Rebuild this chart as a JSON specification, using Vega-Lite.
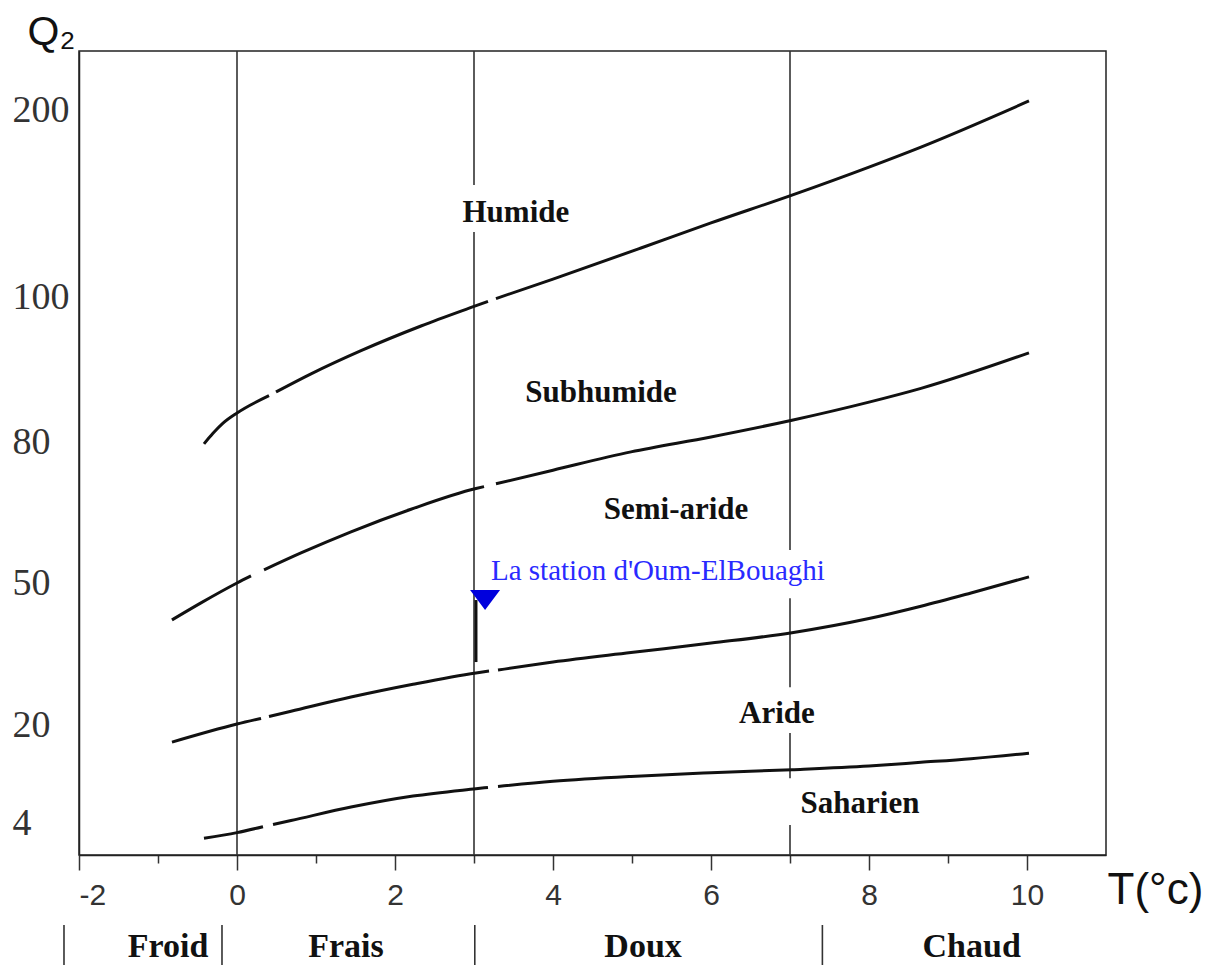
{
  "$schema": "https://vega.github.io/schema/vega-lite/v6.json",
  "autosize": "none",
  "padding": {"left": 79, "top": 51, "right": 112, "bottom": 914},
  "background": "white",
  "bounds": "flush",
  "spacing": 70,
  "config": {"view": {"stroke": null}},
  "datasets": {
    "curves": [
      {"seg": "A1", "T": -0.418, "Q2": 79.6}, {"seg": "A1", "T": -0.304, "Q2": 81.2}, {"seg": "A1", "T": -0.177, "Q2": 82.6},
      {"seg": "A1", "T": 0, "Q2": 84.0}, {"seg": "A1", "T": 0.405, "Q2": 86.4},
      {"seg": "A2", "T": 0.494, "Q2": 86.9}, {"seg": "A2", "T": 0.937, "Q2": 89.4}, {"seg": "A2", "T": 1.57, "Q2": 92.6},
      {"seg": "A2", "T": 2.329, "Q2": 96.0}, {"seg": "A2", "T": 3.0, "Q2": 98.7}, {"seg": "A2", "T": 3.177, "Q2": 99.4},
      {"seg": "A3", "T": 3.278, "Q2": 99.78}, {"seg": "A3", "T": 4.0, "Q2": 109.6}, {"seg": "A3", "T": 5.114, "Q2": 126.2},
      {"seg": "A3", "T": 6.0, "Q2": 139.6}, {"seg": "A3", "T": 7.025, "Q2": 154.5}, {"seg": "A3", "T": 8.0, "Q2": 169.5},
      {"seg": "A3", "T": 8.658, "Q2": 180.2}, {"seg": "A3", "T": 10.025, "Q2": 204.6},
      {"seg": "B1", "T": -0.823, "Q2": 42.2}, {"seg": "B1", "T": -0.456, "Q2": 45.8}, {"seg": "B1", "T": 0, "Q2": 50.0},
      {"seg": "B1", "T": 0.177, "Q2": 51.5},
      {"seg": "B2", "T": 0.342, "Q2": 52.8}, {"seg": "B2", "T": 0.81, "Q2": 56.4}, {"seg": "B2", "T": 1.443, "Q2": 60.9},
      {"seg": "B2", "T": 2.203, "Q2": 65.7}, {"seg": "B2", "T": 3.025, "Q2": 70.1}, {"seg": "B2", "T": 3.127, "Q2": 70.5},
      {"seg": "B3", "T": 3.278, "Q2": 71.1}, {"seg": "B3", "T": 4.0, "Q2": 74.0}, {"seg": "B3", "T": 4.987, "Q2": 77.9},
      {"seg": "B3", "T": 6.0, "Q2": 80.7}, {"seg": "B3", "T": 7.025, "Q2": 83.0}, {"seg": "B3", "T": 8.0, "Q2": 85.5},
      {"seg": "B3", "T": 8.658, "Q2": 87.4}, {"seg": "B3", "T": 10.025, "Q2": 92.3},
      {"seg": "C1", "T": -0.823, "Q2": 17.2}, {"seg": "C1", "T": 0, "Q2": 20.2}, {"seg": "C1", "T": 0.304, "Q2": 21.4},
      {"seg": "C2", "T": 0.405, "Q2": 21.8}, {"seg": "C2", "T": 0.684, "Q2": 22.9}, {"seg": "C2", "T": 1.443, "Q2": 25.9},
      {"seg": "C2", "T": 2.228, "Q2": 28.6}, {"seg": "C2", "T": 3.025, "Q2": 31.0}, {"seg": "C2", "T": 3.19, "Q2": 31.4},
      {"seg": "C3", "T": 3.304, "Q2": 31.6}, {"seg": "C3", "T": 4.0, "Q2": 33.3}, {"seg": "C3", "T": 4.987, "Q2": 35.3},
      {"seg": "C3", "T": 6.0, "Q2": 37.3}, {"seg": "C3", "T": 7.025, "Q2": 39.5}, {"seg": "C3", "T": 8.0, "Q2": 42.5},
      {"seg": "C3", "T": 8.658, "Q2": 45.1}, {"seg": "C3", "T": 9.291, "Q2": 47.9}, {"seg": "C3", "T": 10.025, "Q2": 51.3},
      {"seg": "D1", "T": -0.418, "Q2": 2.1}, {"seg": "D1", "T": 0, "Q2": 2.8}, {"seg": "D1", "T": 0.329, "Q2": 3.54},
      {"seg": "D2", "T": 0.456, "Q2": 3.81}, {"seg": "D2", "T": 0.684, "Q2": 4.4}, {"seg": "D2", "T": 1.443, "Q2": 6.6},
      {"seg": "D2", "T": 2.228, "Q2": 8.4}, {"seg": "D2", "T": 3.025, "Q2": 9.6}, {"seg": "D2", "T": 3.177, "Q2": 9.81},
      {"seg": "D3", "T": 3.304, "Q2": 9.97}, {"seg": "D3", "T": 4.0, "Q2": 10.8}, {"seg": "D3", "T": 4.987, "Q2": 11.6},
      {"seg": "D3", "T": 6.0, "Q2": 12.2}, {"seg": "D3", "T": 7.025, "Q2": 12.7}, {"seg": "D3", "T": 8.0, "Q2": 13.3},
      {"seg": "D3", "T": 8.658, "Q2": 13.9}, {"seg": "D3", "T": 9.291, "Q2": 14.5}, {"seg": "D3", "T": 10.025, "Q2": 15.4}
    ],
    "vlines": [
      {"T": 0, "Q2": 0, "Q2end": 230},
      {"T": 3, "Q2": 0, "Q2end": 134.8}, {"T": 3, "Q2": 159.9, "Q2end": 230},
      {"T": 7, "Q2": 0, "Q2end": 3.75}, {"T": 7, "Q2": 11.3, "Q2end": 18.7},
      {"T": 7, "Q2": 28.0, "Q2end": 46.8}, {"T": 7, "Q2": 57.0, "Q2end": 230}
    ],
    "zones": [
      {"name": "Humide", "T": 3.53, "Q2": 144.9},
      {"name": "Subhumide", "T": 4.608, "Q2": 86.8},
      {"name": "Semi-aride", "T": 5.557, "Q2": 65.5},
      {"name": "Aride", "T": 6.835, "Q2": 22.3},
      {"name": "Saharien", "T": 7.886, "Q2": 7.1}
    ],
    "station": [
      {"name": "La station d'Oum-ElBouaghi", "T": 3.14, "Q2": 46.4, "stemT": 3.025, "stemEnd": 33.3, "labelT": 3.215, "labelQ2": 50.6}
    ],
    "bands": [
      {"name": "Froid", "T": -0.873},
      {"name": "Frais", "T": 1.38},
      {"name": "Doux", "T": 5.14},
      {"name": "Chaud", "T": 9.3}
    ],
    "bandBounds": [
      {"T": -2.19}, {"T": -0.19}, {"T": 3.01}, {"T": 7.41}
    ]
  },
  "resolve": {"scale": {"y": "independent"}},
  "vconcat": [
    {
      "width": 1027,
      "height": 804,
      "view": {"stroke": "#222", "strokeWidth": 1.5},
      "encoding": {
        "x": {
          "field": "T", "type": "quantitative",
          "scale": {"domain": [-2, 11], "nice": false, "zero": false},
          "axis": {
            "values": [-2, -1, 0, 1, 2, 3, 4, 5, 6, 7, 8, 9, 10],
            "labelExpr": "datum.value % 2 === 0 ? replace(datum.label, '\u2212', '-') : ''",
            "grid": false,
            "domainColor": "#222", "domainWidth": 1.5,
            "tickColor": "#333", "tickWidth": 1.5,
            "tickSize": {"condition": {"test": "datum.value % 2 !== 0", "value": 8}, "value": 15},
            "labelFont": "Liberation Sans", "labelFontSize": 30, "labelColor": "#333", "labelPadding": 10,
            "title": "T(°c)", "titleFont": "Liberation Sans", "titleFontSize": 44, "titleFontWeight": "normal",
            "titleColor": "#111", "titleX": 1028, "titleY": 48, "titleAlign": "left", "titleBaseline": "alphabetic"
          }
        },
        "y": {
          "field": "Q2", "type": "quantitative",
          "scale": {"domain": [0, 4, 20, 50, 80, 100, 200, 230], "range": [804, 772, 674, 532, 391, 246, 59, 0], "nice": false, "zero": false},
          "axis": {
            "values": [4, 20, 50, 80, 100, 200],
            "grid": false, "ticks": false,
            "domainColor": "#222", "domainWidth": 1.5,
            "labelFont": "Liberation Serif", "labelFontSize": 38, "labelColor": "#333",
            "labelAlign": "left", "labelBaseline": "middle", "labelPadding": 67,
            "title": "Q₂", "titleFont": "Liberation Sans", "titleFontSize": 41, "titleFontWeight": "normal",
            "titleColor": "#111", "titleAngle": 0, "titleX": -52, "titleY": -7, "titleAlign": "left", "titleBaseline": "alphabetic"
          }
        }
      },
      "layer": [
        {
          "data": {"name": "vlines"},
          "mark": {"type": "rule", "color": "#333", "strokeWidth": 1.6},
          "encoding": {"y2": {"field": "Q2end"}}
        },
        {
          "data": {"name": "curves"},
          "mark": {"type": "line", "color": "#111", "strokeWidth": 3, "interpolate": "monotone"},
          "encoding": {"detail": {"field": "seg", "type": "nominal"}}
        },
        {
          "data": {"name": "zones"},
          "mark": {"type": "text", "font": "Liberation Serif", "fontWeight": "bold", "fontSize": 31, "color": "#111", "baseline": "middle", "align": "center"},
          "encoding": {"text": {"field": "name"}}
        },
        {
          "data": {"name": "station"},
          "mark": {"type": "rule", "color": "#111", "strokeWidth": 3},
          "encoding": {"x": {"field": "stemT", "type": "quantitative"}, "y2": {"field": "stemEnd"}}
        },
        {
          "data": {"name": "station"},
          "mark": {"type": "point", "shape": "M-1,-0.67L1,-0.67L0,0.67Z", "filled": true, "color": "#0000dd", "opacity": 1, "size": 900},
          "encoding": {}
        },
        {
          "data": {"name": "station"},
          "mark": {"type": "text", "font": "Liberation Serif", "fontSize": 29, "color": "#2a2aff", "align": "left", "baseline": "alphabetic"},
          "encoding": {"x": {"field": "labelT", "type": "quantitative"}, "y": {"field": "labelQ2", "type": "quantitative"}, "text": {"field": "name"}}
        }
      ]
    },
    {
      "width": 1027,
      "height": 44,
      "view": {"stroke": null},
      "encoding": {
        "x": {"field": "T", "type": "quantitative", "scale": {"domain": [-2, 11], "nice": false, "zero": false}, "axis": null}
      },
      "layer": [
        {
          "data": {"name": "bandBounds"},
          "mark": {"type": "rule", "color": "#333", "strokeWidth": 1.6},
          "encoding": {}
        },
        {
          "data": {"name": "bands"},
          "mark": {"type": "text", "font": "Liberation Serif", "fontWeight": "bold", "fontSize": 34, "color": "#111", "baseline": "middle", "align": "center"},
          "encoding": {"text": {"field": "name"}}
        }
      ]
    }
  ]
}
